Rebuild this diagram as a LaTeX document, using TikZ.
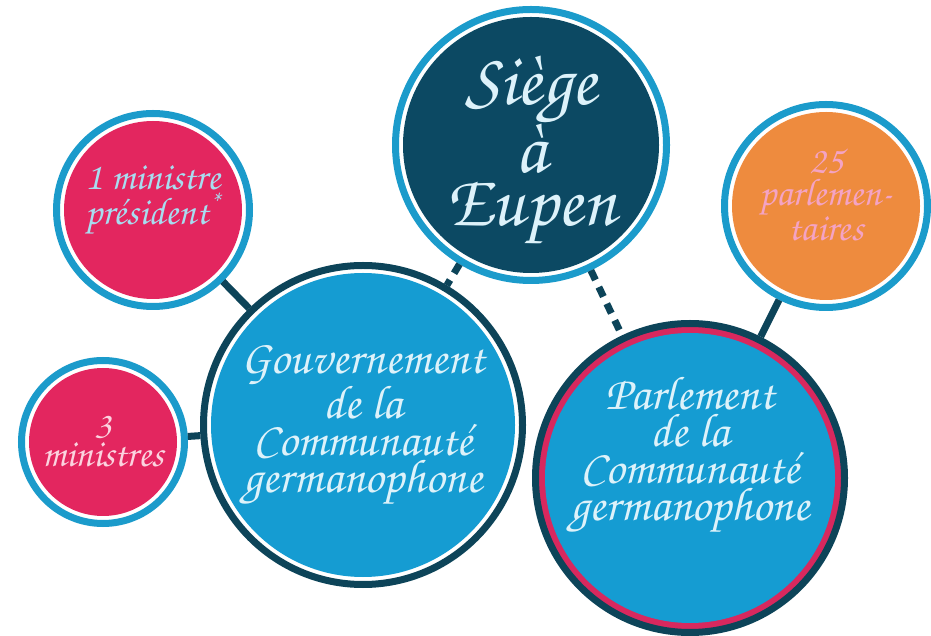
\documentclass[tikz,border=0pt]{standalone}
\usepackage{fontspec}
\setmainfont{texgyrechorus-mediumitalic.otf}
\usetikzlibrary{positioning}
\definecolor{ringblue}{HTML}{1B9BCB}
\definecolor{darkring}{HTML}{0D4459}
\definecolor{navyfill}{HTML}{0C4963}
\definecolor{bluefill}{HTML}{159CD2}
\definecolor{pinkfill}{HTML}{E3265F}
\definecolor{pinkring}{HTML}{D8285E}
\definecolor{orangefill}{HTML}{EE8B3E}
\definecolor{icetext}{HTML}{DDF2FA}
\definecolor{skytext}{HTML}{A8DDF0}
\definecolor{rosetext}{HTML}{FBD3DF}
\definecolor{peachtext}{HTML}{F4A3C4}
\tikzset{
  ringc/.style={circle, draw=#1, fill=white, line width=1.4mm, inner sep=0pt},
  core/.style={circle, fill=#1, inner sep=0pt},
  txt/.style={align=center, text=#1, inner sep=0pt},
  link/.style={draw=darkring, line width=4pt},
  dlink/.style={link, dash pattern=on 6pt off 4.5pt}
}
\begin{document}
\begin{tikzpicture}
\useasboundingbox (0,0) rectangle (18.62,12.7);
% outer rings
\node[ringc=ringblue, minimum size=5.42cm] (siege) at (10.62,9.80) {};
\node[ringc=ringblue, minimum size=3.86cm] (pres) at (3.06,8.50) {};
\node[ringc=ringblue, minimum size=4.06cm] (parl25) at (16.52,8.58) {};
\node[ringc=ringblue, minimum size=3.26cm] (trois) at (2.06,3.86) {};
\node[ringc=darkring, minimum size=6.38cm] (gouv) at (7.26,4.20) {};
\node[ringc=darkring, fill=pinkring, minimum size=6.18cm] (parlcg) at (13.80,3.14) {};
% filled cores
\node[core=navyfill, minimum size=5.12cm] (siegec) at (siege) {};
\node[core=pinkfill, minimum size=3.56cm] (presc) at (pres) {};
\node[core=orangefill, minimum size=3.76cm] (parl25c) at (parl25) {};
\node[core=pinkfill, minimum size=2.96cm] (troisc) at (trois) {};
\node[core=bluefill, minimum size=6.08cm] (gouvc) at (gouv) {};
\node[core=bluefill, minimum size=5.80cm] (parlcgc) at (parlcg) {};
% texts
\node[txt=icetext, font=\fontsize{42}{30}\selectfont] (siegetxt) at ([yshift=-0.1cm]siege) {Siège\\à\\Eupen};
\node[txt=skytext, font=\fontsize{22}{20}\selectfont] (prestxt) at ([yshift=0.2cm]pres) {1 ministre\\président\textsuperscript{*}};
\node[txt=peachtext, font=\fontsize{22}{18}\selectfont] (parl25txt) at ([yshift=0.22cm]parl25) {25\\parlemen-\\taires};
\node[txt=rosetext, font=\fontsize{22}{16}\selectfont] (troistxt) at (trois) {3\\ministres};
\node[txt=icetext, font=\fontsize{27}{21}\selectfont] (gouvtxt) at (gouv) {Gouvernement\\de la\\Communauté\\germanophone};
\node[txt=icetext, font=\fontsize{27}{21}\selectfont] (parlcgtxt) at ([yshift=0.46cm]parlcg) {Parlement\\de la\\Communauté\\germanophone};
% connectors
\draw[link] (pres) -- (gouv);
\draw[link] (trois) -- (gouv);
\draw[link] (parl25) -- (parlcg);
\draw[dlink] (siege) -- (gouv);
\draw[dlink] (siege) -- (parlcg);
\end{tikzpicture}
\end{document}
